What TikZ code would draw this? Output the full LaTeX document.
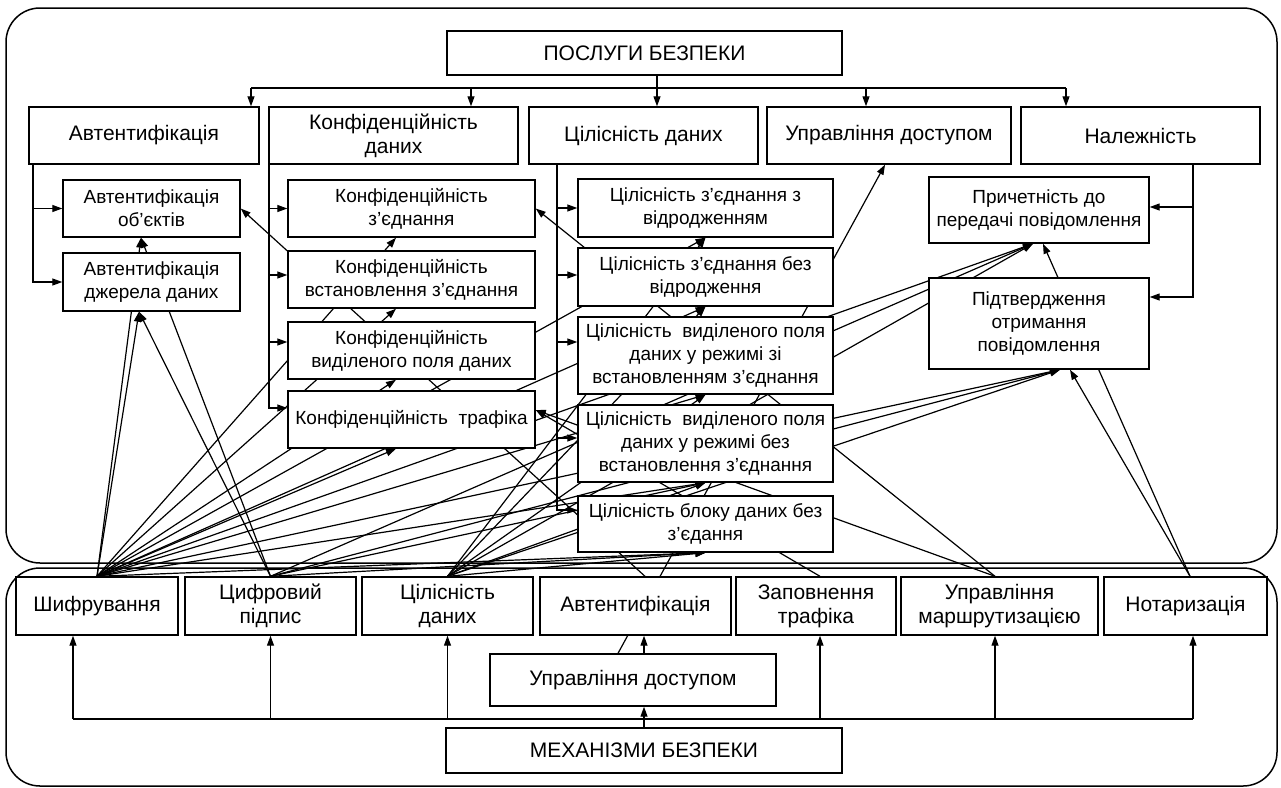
\documentclass[tikz,border=0pt]{standalone}
\usepackage{fontspec}
\setmainfont{Liberation Sans}
\usetikzlibrary{arrows.meta,backgrounds}

\begin{document}
\begin{tikzpicture}[x=1pt,y=-1pt,
  box/.style={draw, fill=white, line width=1.4pt, inner sep=1pt, align=center},
  big/.style={box, font=\fontsize{21}{24}\selectfont},
  small/.style={box, font=\fontsize{19}{23}\selectfont},
  ln/.style={line width=1.2pt},
  arr/.style={ln, -{Triangle[length=10pt,width=7pt]}},
  panel/.style={draw, line width=1.5pt, rounded corners=34pt}
]
\useasboundingbox (0,0) rectangle (1281,787);

% ---------- services ----------
\node[big, minimum width=395pt, minimum height=44pt] (posl) at (644.5,53) {ПОСЛУГИ БЕЗПЕКИ};

\node[big, minimum width=230pt, minimum height=57pt] (sauth) at (144,135.5) {Автентифікація};
\node[big, minimum width=249pt, minimum height=57pt] (sconf) at (393.5,135.5) {Конфіденційність\\даних};
\node[big, minimum width=229pt, minimum height=57pt] (sint)  at (643.5,135.5) {Цілісність даних};
\node[big, minimum width=244pt, minimum height=57pt] (sacc)  at (889,135.5) {Управління доступом};
\node[big, minimum width=239pt, minimum height=57pt] (snr)   at (1140.5,135.5) {Належність};

\node[small, minimum width=177pt, minimum height=57pt] (a1) at (151.5,208.5) {Автентифікація\\об’єктів};
\node[small, minimum width=177pt, minimum height=58pt] (a2) at (151.5,282) {Автентифікація\\джерела даних};

\node[small, minimum width=247pt, minimum height=57pt] (c1) at (411.5,208.5) {Конфіденційність\\з’єднання};
\node[small, minimum width=247pt, minimum height=57pt] (c2) at (411.5,279.5) {Конфіденційність\\встановлення з’єднання};
\node[small, minimum width=247pt, minimum height=57pt] (c3) at (411.5,350.5) {Конфіденційність\\виділеного поля даних};
\node[small, minimum width=247pt, minimum height=57pt] (c4) at (411.5,419.5) {Конфіденційність\ \ трафіка};

\node[small, minimum width=255pt, minimum height=58pt] (i1) at (705.5,208) {Цілісність з’єднання з\\відродженням};
\node[small, minimum width=255pt, minimum height=58pt] (i2) at (705.5,277) {Цілісність з’єднання без\\відродження};
\node[small, minimum width=255pt, minimum height=77pt] (i3) at (705.5,355.5) {Цілісність\ \ виділеного поля\\даних у режимі зі\\встановленням з’єднання};
\node[small, minimum width=255pt, minimum height=77pt] (i4) at (705.5,443.5) {Цілісність\ \ виділеного поля\\даних у режимі без\\встановлення з’єднання};
\node[small, minimum width=255pt, minimum height=56pt] (i5) at (705.5,524) {Цілісність блоку даних без\\з’єдання};

\node[small, minimum width=220pt, minimum height=66pt] (n1) at (1039,210) {Причетність до\\передачі повідомлення};
\node[small, minimum width=220pt, minimum height=91pt] (n2) at (1039,323.5) {Підтвердження\\отримання\\повідомлення};

% ---------- mechanisms ----------
\node[big, minimum width=162pt, minimum height=58pt] (m1) at (97,606) {Шифрування};
\node[big, minimum width=171pt, minimum height=58pt] (m2) at (270.5,606) {Цифровий\\підпис};
\node[big, minimum width=171pt, minimum height=58pt] (m3) at (447.5,606) {Цілісність\\даних};
\node[big, minimum width=191pt, minimum height=58pt] (m4) at (635.5,606) {Автентифікація};
\node[big, minimum width=160pt, minimum height=58pt] (m5) at (816,606) {Заповнення\\трафіка};
\node[big, minimum width=197pt, minimum height=58pt] (m6) at (999.5,606) {Управління\\маршрутизацією};
\node[big, minimum width=163pt, minimum height=58pt] (m7) at (1185.5,606) {Нотаризація};
\node[big, minimum width=286pt, minimum height=52pt] (ma) at (633,680) {Управління доступом};
\node[big, minimum width=396pt, minimum height=45pt] (mech) at (644,750.5) {МЕХАНІЗМИ БЕЗПЕКИ};

% ---------- panels and mechanism-to-service links (behind the boxes) ----------
\begin{pgfonlayer}{background}
\fill[white] (0,0) rectangle (1281,787);
\draw[panel] (6,8) rectangle (1277,563);
\draw[panel] (6,568) rectangle (1277,786);

% start points on the mechanism boxes
\coordinate (oE) at (m1.north);
\coordinate (oD) at (m2.north);
\coordinate (oI) at (m3.north);
\coordinate (oA) at ([xshift=9.5pt]m4.north);
\coordinate (oP) at ([xshift=4pt]m5.north);
\coordinate (oR) at ([xshift=-4.5pt]m6.north);
\coordinate (oN) at ([xshift=4.5pt]m7.north);
\coordinate (oAC) at ([xshift=-15pt]ma.north);

% end points on the service boxes
\coordinate (a1b) at ([xshift=-10.5pt]a1.south);
\coordinate (a1r) at (a1.east);
\coordinate (a2b) at ([xshift=-12.5pt]a2.south);
\coordinate (c1b) at ([xshift=-15.5pt]c1.south);
\coordinate (c1r) at (c1.east);
\coordinate (c2b) at ([xshift=-15.5pt]c2.south);
\coordinate (c3b) at ([xshift=-15.5pt]c3.south);
\coordinate (c4b) at ([xshift=-15.5pt]c4.south);
\coordinate (c4r) at ([yshift=9.5pt]c4.east);
\coordinate (i1b) at (i1.south);
\coordinate (i2b) at (i2.south);
\coordinate (i3b) at (i3.south);
\coordinate (i4b) at (i4.south);
\coordinate (i5b) at (i5.south);
\coordinate (accb) at ([xshift=-4pt]sacc.south);
\coordinate (n1b) at ([xshift=-6pt]n1.south);
\coordinate (n1N) at ([xshift=4pt]n1.south);
\coordinate (n2b) at ([xshift=21pt]n2.south);
\coordinate (n2N) at ([xshift=31pt]n2.south);

\foreach \t in {a1b,a2b,c1b,c2b,c3b,c4b,i1b,i2b,i3b,i4b,i5b,n1b,n2b}
  \draw[arr] (oE) -- (\t);
\foreach \t in {a1b,a2b,i4b,i5b,n1b,n2b}
  \draw[arr] (oD) -- (\t);
\foreach \t in {i1b,i2b,i3b,i4b,i5b,n1b,n2b}
  \draw[arr] (oI) -- (\t);
\draw[arr] (oA) -- (a1r);
\draw[arr] (oP) -- (c4r);
\draw[arr] (oR) -- (c1r);
\draw[arr] (oR) -- (c4r);
\draw[arr] (oN) -- (n1N);
\draw[arr] (oN) -- (n2N);
\draw[arr] (oAC) -- (accb);
\end{pgfonlayer}

% ---------- service tree ----------
\coordinate (busL) at (251,88);
\coordinate (bus2) at (471,88);
\coordinate (bus4) at (866,88);
\coordinate (busR) at (1066,88);
\draw[ln] (busL) -- (busR);
\draw[arr] ([xshift=12.5pt]posl.south) -- ([xshift=13.5pt]sint.north);
\draw[arr] (busL) -- (busL |- sauth.north);
\draw[arr] (bus2) -- (bus2 |- sconf.north);
\draw[arr] (bus4) -- (bus4 |- sacc.north);
\draw[arr] (busR) -- (busR |- snr.north);

% authentication branch
\coordinate (aT) at ([xshift=-111pt]sauth.south);
\draw[arr] (aT) |- (a2.west);
\draw[arr] (aT |- a1.west) -- (a1.west);

% confidentiality branch
\coordinate (cT) at ([xshift=-124.5pt]sconf.south);
\coordinate (c2in) at ([yshift=4.5pt]c2.west);
\coordinate (c3in) at ([yshift=8.5pt]c3.west);
\coordinate (c4in) at ([yshift=11.5pt]c4.west);
\draw[arr] (cT) |- (c4in);
\draw[arr] (cT |- c1.west) -- (c1.west);
\draw[arr] (cT |- c2in) -- (c2in);
\draw[arr] (cT |- c3in) -- (c3in);

% integrity branch
\coordinate (iT) at ([xshift=-86.5pt]sint.south);
\coordinate (i2in) at ([yshift=2pt]i2.west);
\coordinate (i3in) at ([yshift=13.5pt]i3.west);
\coordinate (i4in) at ([yshift=5.5pt]i4.west);
\coordinate (i5in) at ([yshift=14pt]i5.west);
\draw[arr] (iT) |- (i5in);
\draw[arr] (iT |- i1.west) -- (i1.west);
\draw[arr] (iT |- i2in) -- (i2in);
\draw[arr] (iT |- i3in) -- (i3in);
\draw[arr] (iT |- i4in) -- (i4in);

% non-repudiation branch
\coordinate (nT) at ([xshift=52.5pt]snr.south);
\coordinate (n1in) at ([yshift=3pt]n1.east);
\coordinate (n2in) at ([yshift=26.5pt]n2.east);
\draw[arr] (nT) |- (n2in);
\draw[arr] (nT |- n1in) -- (n1in);

% ---------- mechanism tree ----------
\coordinate (mbL) at (73,719);
\coordinate (mbA) at (644,719);
\coordinate (mb5) at (820,719);
\coordinate (mb6) at (995,719);
\coordinate (mbR) at (1193,719);
\draw[ln] (mbL) -- (mbR);
\draw[ln] (mech.north) -- (mbA);
\draw[arr] (mbL) -- (mbL |- m1.south);
\draw[arr] (m2.south |- mbL) -- (m2.south);
\draw[arr] (m3.south |- mbL) -- (m3.south);
\draw[arr] (mbA) -- (mbA |- ma.south);
\draw[arr] (mbA |- ma.north) -- (mbA |- m4.south);
\draw[arr] (mb5) -- (mb5 |- m5.south);
\draw[arr] (mb6) -- (mb6 |- m6.south);
\draw[arr] (mbR) -- (mbR |- m7.south);
\end{tikzpicture}
\end{document}
